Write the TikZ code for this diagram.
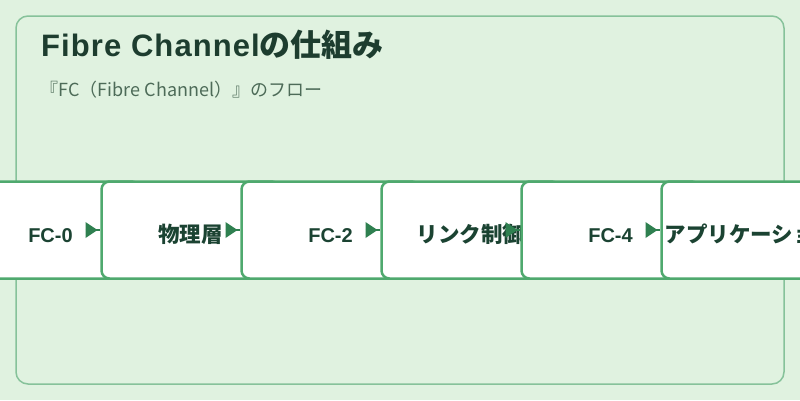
\documentclass[tikz,border=0pt]{standalone}
\usepackage{fontspec}
\setmainfont{Noto Sans CJK JP}
\newfontfamily\lat{Liberation Sans}
\newfontfamily\latsp{Liberation Sans}[LetterSpace=3.5]
\usetikzlibrary{calc}
\definecolor{bgc}{HTML}{E0F2E0}
\definecolor{framec}{HTML}{86C29A}
\definecolor{boxc}{HTML}{4FA96E}
\definecolor{arrc}{HTML}{2F8050}
\definecolor{titlec}{HTML}{1D3D2F}
\definecolor{subc}{HTML}{4D6B58}
\definecolor{txtc}{HTML}{1B4332}
\tikzset{
  stepbox/.style={draw=boxc, line width=2.5pt, fill=white, rounded corners=8pt,
    minimum width=178pt, minimum height=97pt, inner sep=0pt},
  lbl/.style={text=txtc, font=\fontsize{20}{24}\selectfont\bfseries, inner sep=0pt, anchor=base},
  cjklbl/.style={lbl, font=\fontsize{21.5}{25}\selectfont\bfseries},
  arrline/.style={draw=arrc, line width=2.5pt},
  arrhead/.style={fill=arrc}
}
\newcommand{\arrowto}[2]{%
  \draw[arrline] (#1) -- (#2.west);
  \fill[arrhead] ($(#1)+(0,-8)$) -- ($(#1)+(12,0)$) -- ($(#1)+(0,8)$) -- cycle;}
\begin{document}
\begin{tikzpicture}[x=1pt,y=-1pt]
\useasboundingbox (0,0) rectangle (800,400);
\clip (0,0) rectangle (800,400);
\fill[bgc] (0,0) rectangle (800,400);
\draw[framec, line width=1.5pt, rounded corners=12pt] (16,16) rectangle (784,384);
\node[anchor=base west, inner sep=0pt, text=titlec, font=\fontsize{31}{36}\selectfont\bfseries] (title) at (41,56) {{\latsp Fibre Channel}の仕組み};
\node[anchor=base west, inner sep=0pt, text=subc, font=\fontsize{18}{21}\selectfont] (sub) at (40.5,96) {『FC（Fibre Channel）』のフロー};
\node[stepbox] (b1) at (50.5,230) {};
\node[lbl] (t1) at (50.5,242) {\lat FC-0};
\coordinate (a1) at (85.5,230);
\node[stepbox] (b2) at (190.5,230) {};
\arrowto{a1}{b2}
\node[cjklbl] (t2) at (190.5,242) {物理層};
\coordinate (a2) at (225.5,230);
\node[stepbox] (b3) at (330.5,230) {};
\arrowto{a2}{b3}
\node[lbl] (t3) at (330.5,242) {\lat FC-2};
\coordinate (a3) at (365.5,230);
\node[stepbox] (b4) at (470.5,230) {};
\arrowto{a3}{b4}
\node[cjklbl] (t4) at (470.5,242) {リンク制御};
\coordinate (a4) at (505.5,230);
\node[stepbox] (b5) at (610.5,230) {};
\arrowto{a4}{b5}
\node[lbl] (t5) at (610.5,242) {\lat FC-4};
\coordinate (a5) at (645.5,230);
\node[stepbox] (b6) at (750.5,230) {};
\arrowto{a5}{b6}
\node[cjklbl] (t6) at (750.5,242) {アプリケーション};
\end{tikzpicture}
\end{document}
